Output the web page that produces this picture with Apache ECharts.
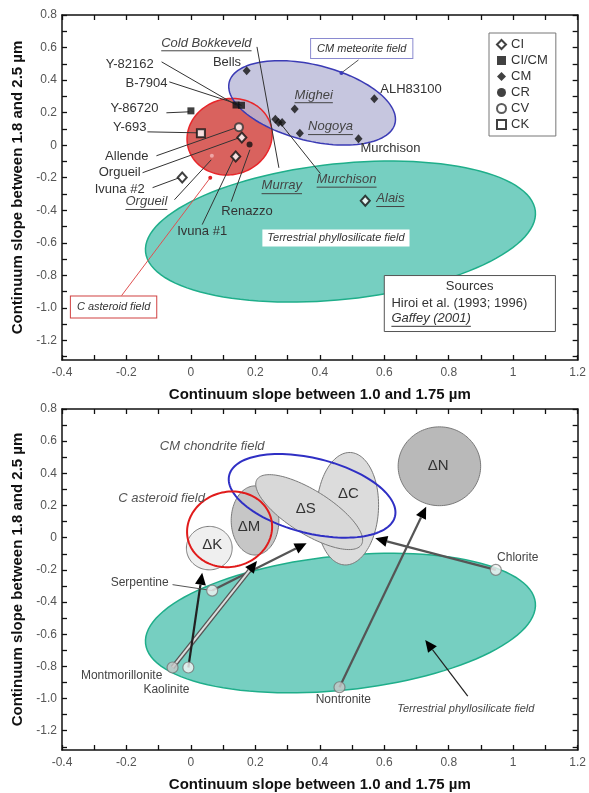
<!DOCTYPE html>
<html>
<head>
<meta charset="utf-8">
<script src="https://cdn.jsdelivr.net/npm/echarts@6/dist/echarts.min.js"></script>
<style>
html, body { margin: 0; padding: 0; background: #fff; }
#main { width: 589px; height: 793px; }
</style>
</head>
<body>
<div id="main"></div>
<script>
// ---- axes ----
var xTicks = [-0.4, -0.3, -0.2, -0.1, 0, 0.1, 0.2, 0.3, 0.4, 0.5, 0.6, 0.7, 0.8, 0.9, 1, 1.1, 1.2];
var xTickLabels = [-0.4, -0.2, 0, 0.2, 0.4, 0.6, 0.8, 1, 1.2];
var yTicks = [0.8, 0.7, 0.6, 0.5, 0.4, 0.3, 0.2, 0.1, 0, -0.1, -0.2, -0.3, -0.4, -0.5, -0.6, -0.7, -0.8, -0.9, -1, -1.1, -1.2, -1.3];
var yTickLabels = [0.8, 0.6, 0.4, 0.2, 0, -0.2, -0.4, -0.6, -0.8, -1, -1.2];
var xTitle = 'Continuum slope between 1.0 and 1.75 µm';
var yTitle = 'Continuum slope between 1.8 and 2.5 µm';

// ---- meteorites (top chart) ----
var ciPoints = [[0.158, 0.047], [0.139, -0.069], [-0.027, -0.198], [0.541, -0.341]];   // Orgueil, Ivuna #1, Ivuna #2, Alais
var cicmPoints = [[0.140, 0.247], [0.157, 0.245], [0.0, 0.211]];                        // Y-82162, B-7904, Y-86720
var cmPoints = [[0.173, 0.458], [0.262, 0.160], [0.272, 0.139], [0.283, 0.139],
                [0.322, 0.223], [0.338, 0.074], [0.569, 0.285], [0.520, 0.039]];          // Bells, cluster, Mighei, Nogoya, ALH83100, Murchison
var crPoints = [[0.182, 0.005]];                                                        // Renazzo
var cvPoints = [[0.149, 0.111]];                                                        // Allende
var ckPoints = [[0.031, 0.074]];                                                        // Y-693
var gaffeyPoints = [[0.065, -0.065]];                                                   // Orgueil (Gaffey)

// ---- fields: centre x, centre y, half width, half height ----
var cmField = [0.376, 0.260, 0.265, 0.233];
var cAsteroidField = [0.120, 0.052, 0.133, 0.233];
var terrestrialField = [0.464, -0.531, 0.608, 0.417];
var deltaK = [0.057, -0.065, 0.071, 0.135];
var deltaM = [0.199, 0.107, 0.074, 0.215];
var deltaS = [0.367, 0.159, 0.191, 0.135];
var deltaC = [0.486, 0.180, 0.096, 0.350];
var deltaN = [0.771, 0.444, 0.128, 0.245];

// ---- minerals (bottom chart) ----
var minerals = ['Serpentine', 'Montmorillonite', 'Kaolinite', 'Nontronite', 'Chlorite'];
var mineralX = [0.066, -0.057, -0.008, 0.461, 0.946];
var mineralY = [-0.329, -0.807, -0.807, -0.930, -0.200];
var targetX = [0.359, 0.205, 0.035, 0.730, 0.572];
var targetY = [-0.034, -0.145, -0.218, 0.193, -0.004];

var FONT = '"Liberation Sans", Arial, sans-serif';
var measureCtx = document.createElement('canvas').getContext('2d');
function textWidth(text, size, italic) {
    measureCtx.font = (italic ? 'italic ' : '') + size + 'px ' + FONT;
    return measureCtx.measureText(text).width;
}

function ellipse(api, f, tilt, style) {
    var c = api.coord([f[0], f[1]]);
    var rx = api.size([f[2], 0])[0];
    var ry = api.size([0, f[3]])[1];
    var t = (tilt || 0) * Math.PI / 180;
    var pts = [];
    for (var i = 0; i < 120; i++) {
        var a = i / 120 * Math.PI * 2;
        var px = rx * Math.cos(a), py = ry * Math.sin(a);
        pts.push([c[0] + px * Math.cos(t) - py * Math.sin(t), c[1] + px * Math.sin(t) + py * Math.cos(t)]);
    }
    return { type: 'polygon', shape: { points: pts }, style: style };
}
function seg(api, a, b, style) {
    var p1 = api.coord(a), p2 = api.coord(b);
    return { type: 'line', shape: { x1: p1[0], y1: p1[1], x2: p2[0], y2: p2[1] },
             style: Object.assign({ stroke: '#333', lineWidth: 1 }, style || {}) };
}
function dot(api, p, r, color) {
    var c = api.coord(p);
    return { type: 'circle', shape: { cx: c[0], cy: c[1], r: r }, style: { fill: color } };
}
function label(api, at, text, opt) {
    opt = opt || {};
    var size = opt.size || 13;
    var c = api.coord(at);
    var els = [{
        type: 'text', x: c[0], y: c[1],
        style: {
            text: text, fill: opt.color || '#333', fontSize: size, fontFamily: FONT,
            fontStyle: opt.italic ? 'italic' : 'normal', align: opt.align || 'center', verticalAlign: 'middle',
            backgroundColor: opt.bg, borderColor: opt.border, borderWidth: opt.border ? 1 : 0, padding: opt.pad
        }
    }];
    if (opt.underline) {
        var w = textWidth(text, size, opt.italic);
        var x0 = opt.align === 'left' ? c[0] : c[0] - w / 2;
        els.push({ type: 'line', shape: { x1: x0, y1: c[1] + size * 0.6, x2: x0 + w, y2: c[1] + size * 0.6 },
                   style: { stroke: opt.color || '#333', lineWidth: 1 } });
    }
    return els;
}
function arrow(api, a, b, kind) {
    var p1 = api.coord(a), p2 = api.coord(b);
    var dx = p2[0] - p1[0], dy = p2[1] - p1[1], L = Math.sqrt(dx * dx + dy * dy);
    var ux = dx / L, uy = dy / L, hl = 12, hw = 5.5;
    var bx = p2[0] - ux * hl, by = p2[1] - uy * hl;
    var els = [];
    var ln = { x1: p1[0], y1: p1[1], x2: bx, y2: by };
    if (kind === 'double') {
        els.push({ type: 'line', shape: ln, style: { stroke: '#555', lineWidth: 4.5 } });
        els.push({ type: 'line', shape: ln, style: { stroke: '#ddd', lineWidth: 2 } });
    } else {
        els.push({ type: 'line', shape: ln, style: { stroke: kind === 'dark' ? '#222' : '#555', lineWidth: 2.2 } });
    }
    els.push({ type: 'polygon', shape: { points: [p2, [bx - uy * hw, by + ux * hw], [bx + uy * hw, by - ux * hw]] },
               style: { fill: '#000' } });
    return els;
}

// ---- annotation layout (top chart) ----
var topNotes = [
    { text: 'Y-82162', at: [-0.19, 0.499], from: [-0.091, 0.512], to: cicmPoints[0] },
    { text: 'B-7904', at: [-0.138, 0.377], from: [-0.067, 0.389], to: cicmPoints[1] },
    { text: 'Y-86720', at: [-0.175, 0.223], from: [-0.076, 0.199], to: [-0.005, 0.205] },
    { text: 'Y-693', at: [-0.19, 0.107], from: [-0.135, 0.082], to: [0.02, 0.076] },
    { text: 'Allende', at: [-0.199, -0.071], from: [-0.107, -0.065], to: [0.14, 0.107] },
    { text: 'Orgueil', at: [-0.221, -0.169], from: [-0.15, -0.169], to: [0.149, 0.045] },
    { text: 'Ivuna #2', at: [-0.221, -0.274], from: [-0.119, -0.261], to: [-0.036, -0.2] },
    { text: 'Orgueil', at: [-0.138, -0.347], from: [-0.051, -0.335], to: [0.063, -0.09], g: true },
    { text: 'Ivuna #1', at: [0.035, -0.531], from: [0.035, -0.488], to: [0.134, -0.077] },
    { text: 'Renazzo', at: [0.174, -0.409], from: [0.125, -0.347], to: [0.183, -0.028] },
    { text: 'Bells', at: [0.112, 0.506] },
    { text: 'Cold Bokkeveld', at: [0.048, 0.628], from: [0.205, 0.604], to: [0.273, -0.139], g: true },
    { text: 'Murray', at: [0.282, -0.25], g: true },
    { text: 'Mighei', at: [0.381, 0.309], g: true },
    { text: 'Nogoya', at: [0.433, 0.113], g: true },
    { text: 'Murchison', at: [0.483, -0.21], from: [0.279, 0.131], to: [0.402, -0.175], g: true },
    { text: 'ALH83100', at: [0.683, 0.34] },
    { text: 'Murchison', at: [0.619, -0.022] },
    { text: 'Alais', at: [0.619, -0.329], g: true }
];

function renderTopFields(params, api) {
    return { type: 'group', children: [
        ellipse(api, terrestrialField, -6, { fill: '#76cfc1', stroke: '#1fae8a', lineWidth: 1.5 }),
        ellipse(api, cAsteroidField, -15, { fill: '#d9625e' }),
        ellipse(api, cmField, 14, { fill: 'rgba(186,186,216,0.82)' }),
        ellipse(api, cAsteroidField, -15, { fill: 'none', stroke: '#e8262a', lineWidth: 1.5 }),
        ellipse(api, cmField, 14, { fill: 'none', stroke: '#3b3bb5', lineWidth: 1.5 })
    ] };
}
function renderTopNotes(params, api) {
    var ch = [];
    topNotes.forEach(function (n) {
        if (n.from) ch.push(seg(api, n.from, n.to));
        ch = ch.concat(label(api, n.at, n.text, n.g ? { italic: true, underline: true, color: '#444' } : {}));
    });
    // field boxes
    ch.push(seg(api, [0.52, 0.524], [0.467, 0.444], { stroke: '#555' }));
    ch.push(dot(api, [0.467, 0.444], 2, '#3b3bb5'));
    ch = ch.concat(label(api, [0.53, 0.594], 'CM meteorite field',
        { italic: true, size: 11, bg: '#fff', border: '#8a8ad0', pad: [4, 6, 4, 6] }));
    ch = ch.concat(label(api, [0.45, -0.571], 'Terrestrial phyllosilicate field',
        { italic: true, size: 11, bg: '#fff', pad: [3, 5, 3, 5] }));
    ch.push(seg(api, [-0.215, -0.924], [0.06, -0.2], { stroke: '#e05050' }));
    ch.push(dot(api, [0.06, -0.2], 2, '#e02020'));
    ch = ch.concat(label(api, [-0.24, -0.994], 'C asteroid field',
        { italic: true, size: 11, bg: '#fff', border: '#d04040', pad: [5, 6, 5, 6] }));
    // sources box
    var p1 = api.coord([0.6, -0.801]), p2 = api.coord([1.131, -1.145]);
    ch.push({ type: 'rect', shape: { x: p1[0], y: p1[1], width: p2[0] - p1[0], height: p2[1] - p1[1] },
              style: { fill: '#fff', stroke: '#555', lineWidth: 1 } });
    ch = ch.concat(label(api, [0.865, -0.869], 'Sources'));
    ch = ch.concat(label(api, [0.622, -0.973], 'Hiroi et al. (1993; 1996)', { align: 'left' }));
    ch = ch.concat(label(api, [0.622, -1.065], 'Gaffey (2001)', { align: 'left', italic: true, underline: true }));
    return { type: 'group', children: ch };
}

function renderBottomFields(params, api) {
    var gs = function (fill) { return { fill: fill, stroke: '#7a7a7a', lineWidth: 1 }; };
    return { type: 'group', children: [
        ellipse(api, terrestrialField, -6, { fill: '#76cfc1', stroke: '#1fae8a', lineWidth: 1.5 }),
        ellipse(api, deltaK, 0, gs('#efefef')),
        ellipse(api, deltaM, 0, gs('#c6c6c6')),
        ellipse(api, deltaC, 3, gs('#dcdcdc')),
        ellipse(api, deltaS, 32, gs('#d8d8d8')),
        ellipse(api, deltaN, 0, gs('#b9b9b9')),
        ellipse(api, cmField, 14, { fill: 'none', stroke: '#2f2fc4', lineWidth: 2 }),
        ellipse(api, cAsteroidField, -15, { fill: 'none', stroke: '#e01b1b', lineWidth: 2 })
    ] };
}
var arrowKinds = ['grey', 'double', 'dark', 'grey', 'grey'];
function renderBottomNotes(params, api) {
    var ch = [];
    minerals.forEach(function (m, i) {
        ch = ch.concat(arrow(api, [mineralX[i], mineralY[i]], [targetX[i], targetY[i]], arrowKinds[i]));
    });
    var ds = { size: 15, color: '#333' };
    ch = ch.concat(label(api, [0.066, -0.047], 'ΔK', ds));
    ch = ch.concat(label(api, [0.18, 0.07], 'ΔM', ds));
    ch = ch.concat(label(api, [0.356, 0.18], 'ΔS', ds));
    ch = ch.concat(label(api, [0.489, 0.272], 'ΔC', ds));
    ch = ch.concat(label(api, [0.767, 0.444], 'ΔN', ds));
    ch = ch.concat(label(api, [0.066, 0.567], 'CM chondrite field', { italic: true, color: '#555' }));
    ch = ch.concat(label(api, [-0.091, 0.242], 'C asteroid field', { italic: true, color: '#555' }));
    var ms = { size: 12, color: '#444' };
    ch.push(seg(api, [-0.057, -0.292], [mineralX[0], mineralY[0]], { stroke: '#555' }));
    ch = ch.concat(label(api, [-0.159, -0.28], minerals[0], ms));
    ch = ch.concat(label(api, [-0.215, -0.856], minerals[1], ms));
    ch = ch.concat(label(api, [-0.076, -0.948], minerals[2], ms));
    ch = ch.concat(label(api, [0.473, -1.01], minerals[3], ms));
    ch = ch.concat(label(api, [1.014, -0.126], minerals[4], ms));
    ch = ch.concat(arrow(api, [0.859, -0.985], [0.727, -0.636], 'dark').map(function (e) {
        if (e.type === 'line') e.style.lineWidth = 1.2;
        return e;
    }));
    ch = ch.concat(label(api, [0.853, -1.065], 'Terrestrial phyllosilicate field', { italic: true, size: 11, color: '#444' }));
    return { type: 'group', children: ch };
}

function xAxis(grid, top) {
    return {
        type: 'value', gridIndex: grid, min: -0.4, max: 1.2, position: top ? 'top' : 'bottom',
        axisLine: { show: true, onZero: false, lineStyle: { color: '#111', width: 1.5 } },
        axisTick: { show: true, inside: true, length: 5, customValues: xTicks, lineStyle: { color: '#111', width: 1.3 } },
        axisLabel: { show: !top, customValues: xTickLabels, margin: 7, color: '#555', fontSize: 12, fontFamily: FONT,
                     formatter: function (v) { return String(v); } },
        splitLine: { show: false },
        name: top ? '' : xTitle, nameLocation: 'middle', nameGap: 27,
        nameTextStyle: { color: '#111', fontSize: 15, fontWeight: 'bold', fontFamily: FONT }
    };
}
function yAxis(grid, right) {
    return {
        type: 'value', gridIndex: grid, min: -1.32, max: 0.8, position: right ? 'right' : 'left',
        axisLine: { show: true, onZero: false, lineStyle: { color: '#111', width: 1.5 } },
        axisTick: { show: true, inside: true, length: 5, customValues: yTicks, lineStyle: { color: '#111', width: 1.3 } },
        axisLabel: { show: !right, customValues: yTickLabels, margin: 5, color: '#555', fontSize: 12, fontFamily: FONT,
                     formatter: function (v) { return v === -1 ? '-1.0' : String(v); } },
        splitLine: { show: false },
        name: right ? '' : yTitle, nameLocation: 'middle', nameGap: 36,
        nameTextStyle: { color: '#111', fontSize: 15, fontWeight: 'bold', fontFamily: FONT }
    };
}
function pts(series, name, symbol, size, style) {
    return { type: 'scatter', name: name, xAxisIndex: 0, yAxisIndex: 0, data: series, symbol: symbol,
             symbolSize: size, itemStyle: style, z: 5, silent: true };
}

var myChart = echarts.init(document.getElementById('main'));
var mineralFill = ['#f2f2f2', '#c8c8c8', '#f6f6f6', '#c8c8c8', '#f2f2f2'];
var option = {
    animation: false,
    backgroundColor: '#fff',
    grid: [
        { left: 62, top: 15, width: 518, height: 345 },
        { left: 62, top: 409, width: 518, height: 346 }
    ],
    xAxis: [xAxis(0, false), xAxis(0, true), xAxis(1, false), xAxis(1, true)],
    yAxis: [yAxis(0, false), yAxis(0, true), yAxis(1, false), yAxis(1, true)],
    legend: {
        data: ['CI', 'CI/CM', 'CM', 'CR', 'CV', 'CK'],
        orient: 'vertical', left: 489, top: 33, padding: [5, 8, 5, 7], itemGap: 3,
        itemWidth: 9, itemHeight: 9, selectedMode: false,
        borderColor: '#777', borderWidth: 1, backgroundColor: '#fff',
        textStyle: { fontSize: 13, color: '#333', fontFamily: FONT, lineHeight: 13 }
    },
    series: [
        { type: 'custom', xAxisIndex: 0, yAxisIndex: 0, data: [[0, 0]], renderItem: renderTopFields, z: 1, silent: true },
        { type: 'custom', xAxisIndex: 0, yAxisIndex: 0, data: [[0, 0]], renderItem: renderTopNotes, z: 3, silent: true },
        pts(ciPoints, 'CI', 'diamond', [9, 10], { color: '#fff', borderColor: '#111', borderWidth: 2 }),
        pts(cicmPoints, 'CI/CM', 'rect', 7, { color: '#111' }),
        pts(cmPoints, 'CM', 'diamond', [8, 9], { color: '#111' }),
        pts(crPoints, 'CR', 'circle', 6, { color: '#111' }),
        pts(cvPoints, 'CV', 'circle', 8, { color: '#fff', borderColor: '#333', borderWidth: 2 }),
        pts(ckPoints, 'CK', 'rect', 8, { color: '#fff', borderColor: '#111', borderWidth: 2 }),
        pts(gaffeyPoints, 'Gaffey', 'circle', 4, { color: '#f2b8b8' }),
        { type: 'custom', xAxisIndex: 2, yAxisIndex: 2, data: [[0, 0]], renderItem: renderBottomFields, z: 1, silent: true },
        { type: 'custom', xAxisIndex: 2, yAxisIndex: 2, data: [[0, 0]], renderItem: renderBottomNotes, z: 3, silent: true },
        {
            type: 'scatter', xAxisIndex: 2, yAxisIndex: 2, symbol: 'circle', symbolSize: 11, z: 5, silent: true,
            data: minerals.map(function (m, i) {
                return { name: m, value: [mineralX[i], mineralY[i]], itemStyle: { color: mineralFill[i] } };
            }),
            itemStyle: { borderColor: '#777', borderWidth: 1.2 }
        }
    ]
};
myChart.setOption(option);
</script>
</body>
</html>
